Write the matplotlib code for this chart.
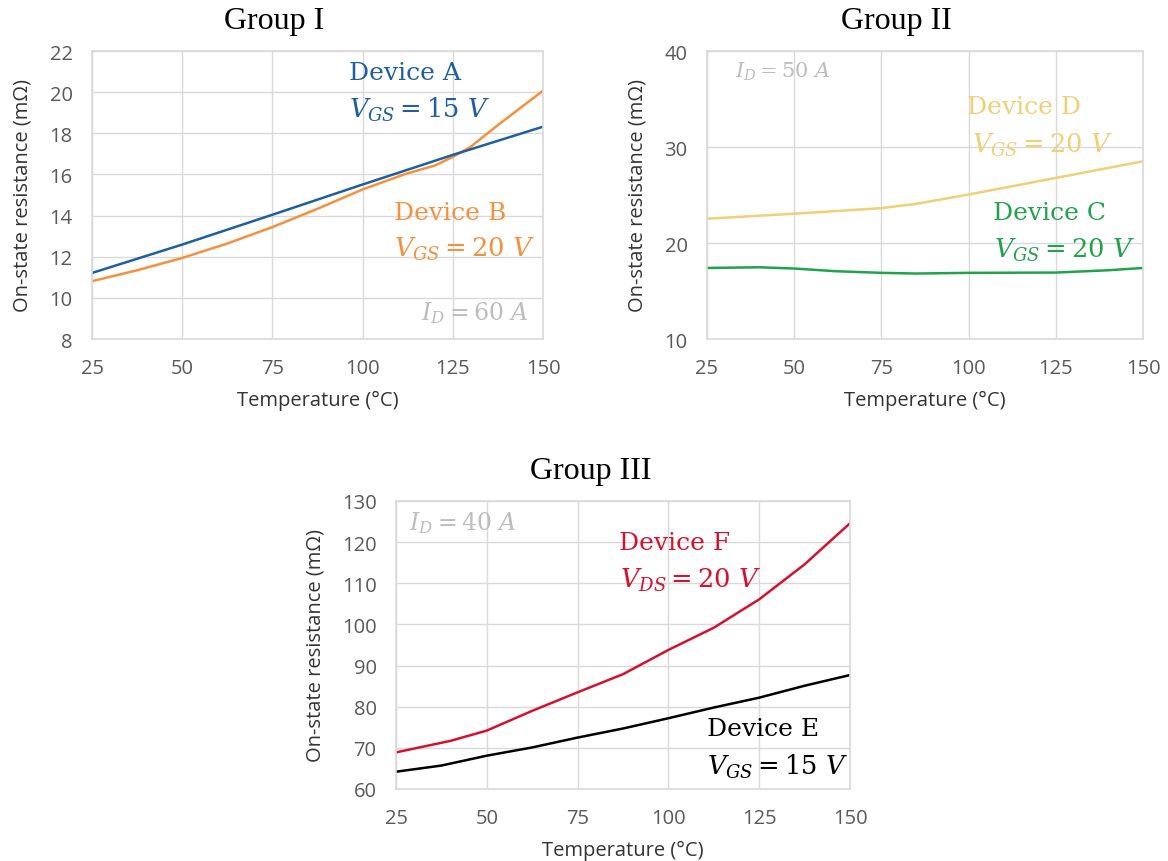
import matplotlib
matplotlib.use("Agg")
import matplotlib.pyplot as plt

plt.rcParams['mathtext.fontset'] = 'dejavuserif'

W, H = 1168, 862

# ---- data ----
tA = [25, 50, 75, 100, 125, 150]
rA = [11.21, 12.59, 14.04, 15.51, 16.95, 18.32]
tB = [25, 37.5, 50, 62.5, 75, 87.5, 100, 112, 120, 125, 130, 137.5, 150]
rB = [10.81, 11.34, 11.94, 12.64, 13.44, 14.33, 15.27, 16.03, 16.43, 16.85, 17.35, 18.4, 20.07]

tD = [25, 50, 75, 85, 100, 125, 150]
rD = [22.53, 23.05, 23.63, 24.08, 25.05, 26.78, 28.51]
tC = [25, 40, 50, 62, 75, 85, 100, 125, 140, 150]
rC = [17.40, 17.47, 17.34, 17.06, 16.89, 16.82, 16.89, 16.92, 17.16, 17.40]

tF = [25, 40, 50, 62.5, 75, 87.5, 100, 112.5, 125, 137.5, 150]
rF = [68.9, 71.7, 74.2, 79.0, 83.5, 87.9, 93.8, 99.2, 106.1, 114.6, 124.6]
tE = [25, 37.5, 50, 62.5, 75, 87.5, 100, 112.5, 125, 137.5, 150]
rE = [64.2, 65.7, 68.1, 70.1, 72.5, 74.7, 77.2, 79.8, 82.2, 85.1, 87.7]

xticks = [25, 50, 75, 100, 125, 150]
yticks1 = [8, 10, 12, 14, 16, 18, 20, 22]
yticks2 = [10, 20, 30, 40]
yticks3 = [60, 70, 80, 90, 100, 110, 120, 130]

c_blue = '#1F5F9E'
c_orange = '#F4913E'
c_yellow = '#EFD077'
c_green = '#22A24E'
c_red = '#D5122E'
c_black = '#000000'
c_gray = '#BDBDBD'
grid_c = '#D9D9D9'
tick_c = '#595959'

fig = plt.figure(figsize=(W / 100, H / 100), dpi=100)
fig.patch.set_facecolor('white')

def make_ax(l, t, r, b):
    ax = fig.add_axes([l / W, 1 - b / H, (r - l) / W, (b - t) / H])
    for s in ax.spines.values():
        s.set_color(grid_c)
        s.set_linewidth(1.2)
    ax.grid(True, color=grid_c, linewidth=1.0)
    ax.set_axisbelow(True)
    ax.tick_params(length=0, labelsize=14.5, labelcolor=tick_c, pad=14)
    ax.set_xlim(25, 150)
    ax.set_xticks(xticks)
    ax.set_xlabel('Temperature (°C)', fontsize=14.5, color='#333333', family='Open Sans', labelpad=8)
    ax.set_ylabel('On-state resistance (mΩ)', fontsize=14.5, color='#333333', family='Open Sans', labelpad=12)
    return ax

def fix_fonts(ax):
    for lab in ax.get_xticklabels() + ax.get_yticklabels():
        lab.set_fontfamily('Open Sans')

def ftext(x, y, s, color, size=18, **kw):
    fig.text(x / W, 1 - y / H, s, color=color, fontsize=size, family='DejaVu Serif',
             ha='left', va='center', **kw)

def title(x, y, s):
    fig.text(x / W, 1 - y / H, s, fontsize=23, family='Liberation Serif', ha='center', va='center')

# Group I
ax1 = make_ax(92, 52, 543, 340)
ax1.set_ylim(8, 22)
ax1.set_yticks(yticks1)
ax1.plot(tB, rB, color=c_orange, lw=1.8)
ax1.plot(tA, rA, color=c_blue, lw=1.8)
fix_fonts(ax1)
title(274, 22, 'Group I')
ftext(349, 74, 'Device A', c_blue)
ftext(349, 110, r'$V_{GS}=15\ V$', c_blue, size=18.5)
ftext(394, 213, 'Device B', c_orange)
ftext(394, 249, r'$V_{GS}=20\ V$', c_orange, size=18.5)
ftext(421, 313, r'$I_D=60\ A$', c_gray, size=17)

# Group II
ax2 = make_ax(707, 52, 1143, 340)
ax2.set_ylim(10, 40)
ax2.set_yticks(yticks2)
ax2.plot(tD, rD, color=c_yellow, lw=1.8)
ax2.plot(tC, rC, color=c_green, lw=1.8)
fix_fonts(ax2)
title(896, 22, 'Group II')
ftext(735, 72, r'$I_D=50\ A$', c_gray, size=15)
ftext(967, 108, 'Device D', c_yellow)
ftext(972, 145, r'$V_{GS}=20\ V$', c_yellow, size=18.5)
ftext(993, 213, 'Device C', c_green)
ftext(994, 250, r'$V_{GS}=20\ V$', c_green, size=18.5)

# Group III
ax3 = make_ax(396, 502, 850, 790)
ax3.set_ylim(60, 130)
ax3.set_yticks(yticks3)
ax3.plot(tF, rF, color=c_red, lw=1.8)
ax3.plot(tE, rE, color=c_black, lw=1.8)
fix_fonts(ax3)
title(591, 472, 'Group III')
ftext(409, 523, r'$I_D=40\ A$', c_gray, size=17)
ftext(619, 543, 'Device F', c_red)
ftext(620, 580, r'$V_{DS}=20\ V$', c_red, size=18.5)
ftext(707, 730, 'Device E', c_black)
ftext(707, 767, r'$V_{GS}=15\ V$', c_black, size=18.5)

fig.savefig('out.png', dpi=100)
